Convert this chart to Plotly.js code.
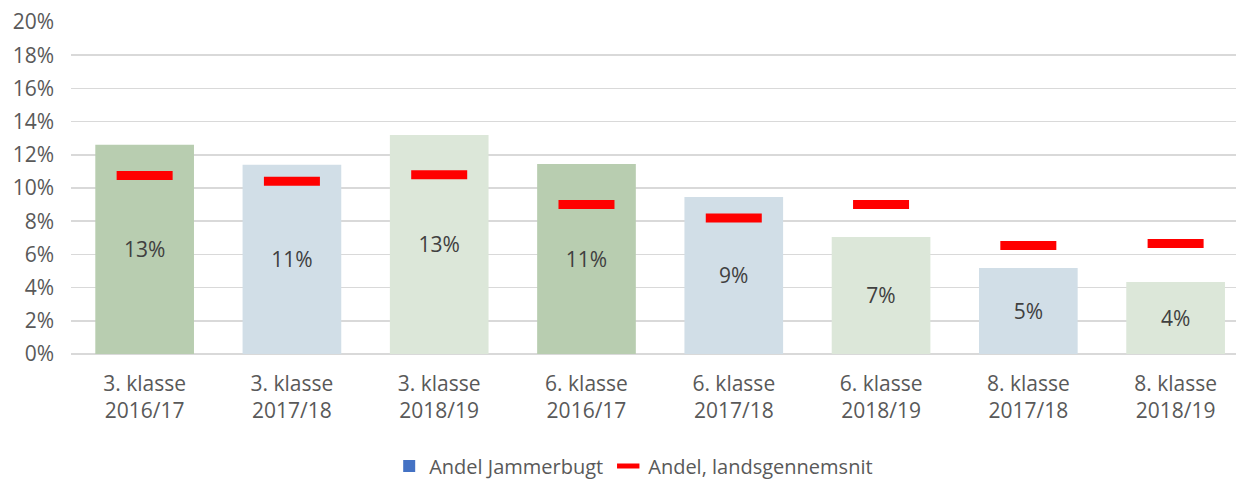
<!DOCTYPE html>
<html>
<head>
<meta charset="utf-8">
<script src="https://cdn.plot.ly/plotly-3.0.1.min.js"></script>
<style>
  html, body { margin: 0; padding: 0; background: #fff; }
  #chart { width: 1236px; height: 479px; }
</style>
</head>
<body>
<div id="chart"></div>
<script>
// Categories (class / school year)
var klasser = ['3. klasse<br>2016/17', '3. klasse<br>2017/18', '3. klasse<br>2018/19',
               '6. klasse<br>2016/17', '6. klasse<br>2017/18', '6. klasse<br>2018/19',
               '8. klasse<br>2017/18', '8. klasse<br>2018/19'];

// Andel Jammerbugt (bars)
var andelJammerbugt = [0.126, 0.114, 0.132, 0.1145, 0.0946, 0.0705, 0.0518, 0.0434];

// Andel, landsgennemsnit (red markers)
var andelLand = [0.1075, 0.104, 0.108, 0.090, 0.082, 0.090, 0.0654, 0.0666];

var barColors = ['#b8cdb0', '#d1dee7', '#dce7d9', '#b8cdb0',
                 '#d1dee7', '#dce7d9', '#d1dee7', '#dce7d9'];

var font = 'Open Sans, sans-serif';

var bars = {
  type: 'bar',
  x: klasser,
  y: andelJammerbugt,
  marker: {color: barColors},
  width: 0.67,
  text: andelJammerbugt,
  texttemplate: '%{y:.0%}',
  textposition: 'inside',
  insidetextanchor: 'middle',
  insidetextfont: {family: font, size: 21, color: '#404040'},
  hoverinfo: 'skip',
  showlegend: false
};

//legend-only entry, series colour of the bars
var barLegend = {
  type: 'bar',
  x: [null],
  y: [null],
  name: 'Andel Jammerbugt',
  marker: {color: '#4472c4'}
};

var landsgennemsnit = {
  type: 'scatter',
  mode: 'markers',
  x: klasser,
  y: andelLand,
  name: 'Andel, landsgennemsnit',
  marker: {
    symbol: 'line-ew',
    size: 40,
    color: '#ff0000',
    line: {color: '#ff0000', width: 9}
  },
  hoverinfo: 'skip'
};

var layout = {
  width: 1236,
  height: 479,
  margin: {l: 71, r: 0, t: 22, b: 125},
  paper_bgcolor: '#fff',
  plot_bgcolor: '#fff',
  barmode: 'overlay',
  font: {family: font, size: 21, color: '#595959'},
  xaxis: {
    type: 'category',
    range: [-0.5, 7.41],
    showgrid: false,
    ticks: '',
    automargin: false,
    ticklabelstandoff: 15,
    tickfont: {family: font, size: 21, color: '#595959'}
  },
  yaxis: {
    range: [0, 0.2],
    dtick: 0.02,
    tickformat: '.0%',
    gridcolor: '#d9d9d9',
    gridwidth: 1.5,
    zeroline: true,
    zerolinecolor: '#d9d9d9',
    zerolinewidth: 1.5,
    ticks: '',
    automargin: false,
    ticklabelstandoff: 16,
    tickfont: {family: font, size: 21, color: '#595959'}
  },
  legend: {
    orientation: 'h',
    x: 0.483,
    xanchor: 'center',
    yref: 'container',
    y: 0.027,
    yanchor: 'middle',
    font: {family: font, size: 20, color: '#595959'}
  }
};

Plotly.newPlot('chart', [bars, barLegend, landsgennemsnit], layout, {staticPlot: true});
</script>
</body>
</html>
